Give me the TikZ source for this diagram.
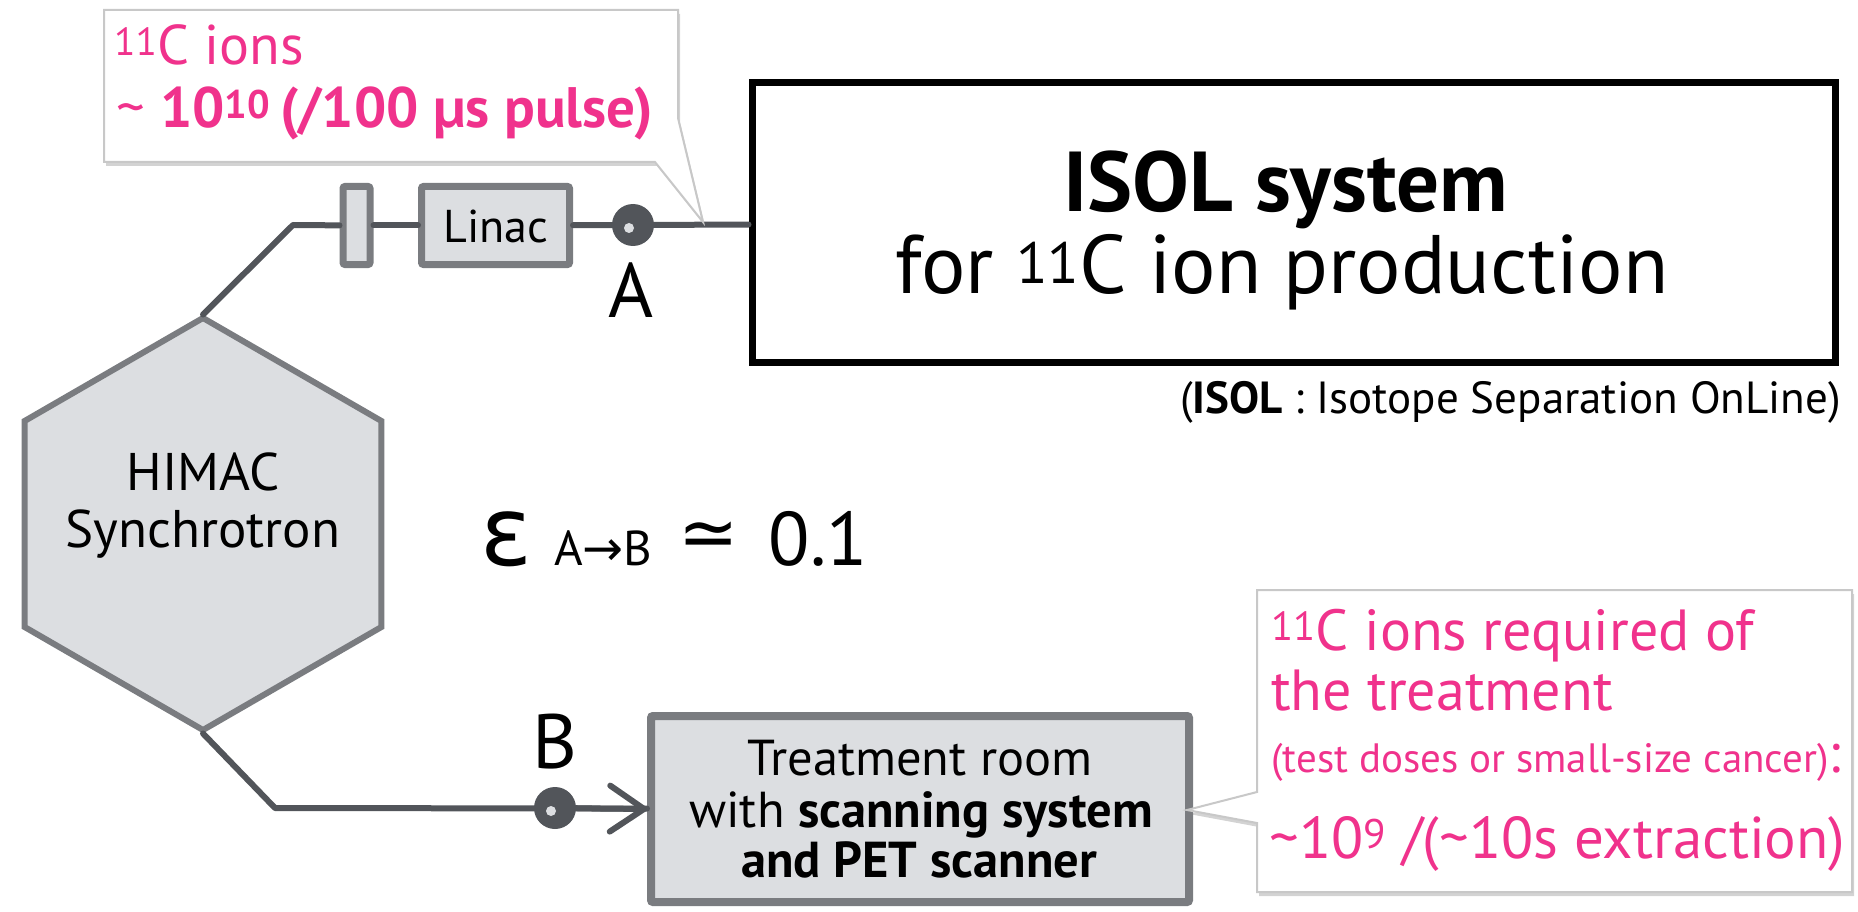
\documentclass[tikz,border=0pt]{standalone}
\usepackage{fontspec}
\setmainfont{PT Sans}
\newfontfamily\sym{DejaVu Sans}
\usetikzlibrary{shapes.geometric,arrows.meta,shadows}
\definecolor{pinkc}{RGB}{240,50,140}
\definecolor{beamc}{RGB}{82,85,90}
\definecolor{boxfill}{RGB}{220,222,225}
\definecolor{boxedge}{RGB}{122,124,128}
\definecolor{calledge}{RGB}{200,200,200}
\tikzset{
  graybox/.style={rectangle, draw=boxedge, fill=boxfill, line width=7pt, inner sep=0pt, rounded corners=2pt},
  beam/.style={draw=beamc, line width=6pt, line cap=round, line join=round},
  callout/.style={draw=calledge, fill=white, line width=2pt, drop shadow={shadow xshift=2pt, shadow yshift=-4pt, opacity=0.35}},
  pinktxt/.style={text=pinkc, inner sep=0pt},
  txt/.style={inner sep=0pt, text=black},
  monitor/.style={circle, fill=beamc, minimum size=42pt, inner sep=0pt},
  hole/.style={circle, fill=boxfill, minimum size=10pt, inner sep=0pt},
}
\begin{document}
\begin{tikzpicture}[x=1pt,y=-1pt]
\useasboundingbox (0,0) rectangle (1858,912);

% ---------- nodes ----------
\node[regular polygon, regular polygon sides=6, shape border rotate=30,
      draw=boxedge, fill=boxfill, line width=6pt, minimum size=412pt, inner sep=0pt] (hex) at (203,524) {};
\node[txt, anchor=base] (him1) at (203,490) {\fontsize{53}{60}\selectfont HIMAC};
\node[txt, anchor=base] (him2) at (203,547) {\fontsize{53}{60}\selectfont Synchrotron};

\node[graybox, minimum width=27pt, minimum height=78pt] (flange) at (356.5,225.5) {};
\node[graybox, minimum width=148pt, minimum height=78pt] (linac) at (495.5,225.5) {};
\node[txt, anchor=base] (linactxt) at (496,243) {\fontsize{46}{50}\selectfont Linac};

\node[draw=black, line width=7pt, minimum width=1083pt, minimum height=279pt, inner sep=0pt] (isol) at (1293.5,222.5) {};
\node[txt, anchor=base] (isol1) at (1286,212) {\fontsize{85}{90}\selectfont\bfseries ISOL system};
\node[txt, anchor=base] (isol2) at (1282,293) {\fontsize{83}{90}\selectfont for \textsuperscript{11}C ion production};
\node[txt, anchor=base east] (note) at (1841,413) {\fontsize{45}{50}\selectfont(\textbf{ISOL} : Isotope Separation OnLine)};

\node[graybox, line width=8pt, minimum width=538pt, minimum height=186pt] (treat) at (920,809) {};
\node[txt, anchor=base] (tr1) at (920,775) {\fontsize{50.5}{56}\selectfont Treatment room};
\node[txt, anchor=base] (tr2) at (921,827) {\fontsize{50.5}{56}\selectfont with \textbf{scanning system}};
\node[txt, anchor=base] (tr3) at (919,877) {\fontsize{50.5}{56}\selectfont\bfseries and PET scanner};

\coordinate (c1) at (293,225);
\coordinate (c2) at (275,808);

% ---------- beam lines ----------
\draw[beam] (hex.north) -- (c1) -- (flange);
\draw[beam] (flange) -- (linac);
\draw[beam] (linac) -- (isol);
\draw[beam] (hex.south) -- (c2) -- (treat);

\node[monitor] (monA) at (633,225) {};
\node[hole] (holeA) at (629,228) {};
\node[monitor] (monB) at (555,808) {};
\node[hole] (holeB) at (551,811) {};
\draw[beam, -{Straight Barb[length=34pt, width=46pt, round]}] (monB) -- (treat.west);

\node[txt, anchor=base] (labA) at (631,317) {\fontsize{77}{90}\selectfont A};
\node[txt, anchor=base] (labB) at (555,768) {\fontsize{77}{90}\selectfont B};

% ---------- efficiency ----------
\node[txt, anchor=base west] (eps) at (480,565) {{\sym\fontsize{96}{100}\selectfont ε}\hspace{22pt}{\fontsize{49}{50}\selectfont A{\sym →}B}\hspace{26pt}\raisebox{8pt}{\sym\fontsize{72}{76}\selectfont ≃}\hspace{30pt}{\fontsize{76}{90}\selectfont 0.1}};

% ---------- callouts ----------
\coordinate (tip1) at (703,222);
\draw[callout] (104,10) -- (678,10) -- (678,118) -- (tip1) -- (655,162) -- (104,162) -- cycle;
\node[pinktxt, anchor=base west] (c1a) at (114,65) {\fontsize{56}{60}\selectfont\textsuperscript{11}C ions};
\node[pinktxt, anchor=base west] (c1b) at (116,128) {\fontsize{57}{60}\selectfont\textasciitilde{} \textbf{10\textsuperscript{10}\,(/100 µs pulse)}};

\coordinate (tip2) at (1187,810);
\draw[callout] (1257,590) -- (1852,590) -- (1852,892) -- (1257,892) -- (1257,823) -- (tip2) -- (1257,792) -- cycle;
\node[pinktxt, anchor=base west] (c2a) at (1271,650) {\fontsize{58}{60}\selectfont\textsuperscript{11}C ions required of};
\node[pinktxt, anchor=base west] (c2b) at (1271,710) {\fontsize{58}{60}\selectfont the treatment};
\node[pinktxt, anchor=base west] (c2c) at (1271,772) {\fontsize{41}{44}\selectfont(test doses or small-size cancer)\fontsize{56}{60}\selectfont:};
\node[pinktxt, anchor=base west] (c2d) at (1269,858) {\fontsize{59}{70}\selectfont\textasciitilde10\textsuperscript{9} /(\textasciitilde10s extraction)};
\end{tikzpicture}
\end{document}
